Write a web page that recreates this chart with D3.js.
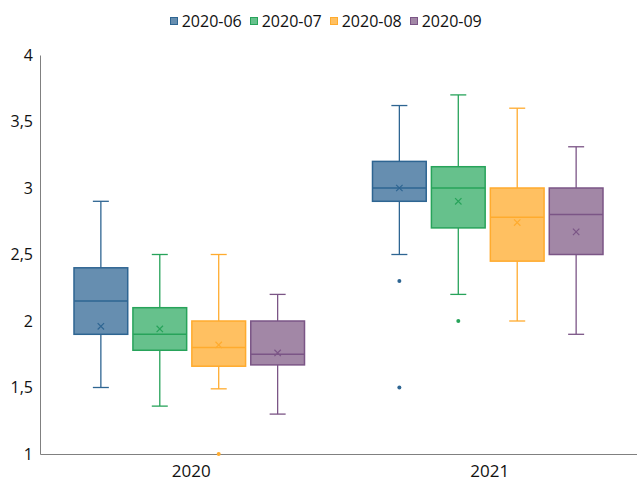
<!DOCTYPE html>
<html><head><meta charset="utf-8">
<script src="https://cdn.jsdelivr.net/npm/d3@7"></script>
<style>
html,body{margin:0;padding:0;background:#fff;}
text{font-family:"Open Sans","Noto Sans",sans-serif;fill:#111;}
</style></head>
<body>
<svg id="chart" width="637" height="483"></svg>
<script>
// ---- data ----
const categories = ["2020", "2021"];
const series = ["2020-06", "2020-07", "2020-08", "2020-09"];
const yTicks = [1, 1.5, 2, 2.5, 3, 3.5, 4];
// values indexed [series][category]
const lowWhisker  = [[1.50, 2.50], [1.36, 2.20], [1.49, 2.00], [1.30, 1.90]];
const q1          = [[1.90, 2.90], [1.78, 2.70], [1.66, 2.45], [1.67, 2.50]];
const median      = [[2.15, 3.00], [1.90, 3.00], [1.80, 2.78], [1.75, 2.80]];
const q3          = [[2.40, 3.20], [2.10, 3.16], [2.00, 3.00], [2.00, 3.00]];
const highWhisker = [[2.90, 3.62], [2.50, 3.70], [2.50, 3.60], [2.20, 3.31]];
const mean        = [[1.96, 3.00], [1.94, 2.90], [1.82, 2.74], [1.76, 2.67]];
const outliers    = [[[], [2.30, 1.50]], [[], [2.00]], [[1.00], []], [[], []]];

const fills   = ["#668eb0", "#66c18c", "#ffc061", "#a287a6"];
const strokes = ["#2e6592", "#27a35a", "#ffab2e", "#7b5586"];

// ---- layout ----
const svg = d3.select("#chart");
const plotLeft = 40, plotRight = 637, plotTop = 55, plotBottom = 454;

const y = d3.scaleLinear().domain([1, 4]).range([plotBottom, plotTop]);
const x0 = d3.scaleBand().domain(categories).range([plotLeft, plotRight]).padding(0);
const x1 = d3.scaleBand().domain(series)
  .range([31.4, x0.bandwidth() - 31.4]).paddingInner(0.088).paddingOuter(0.044);

// y axis
const yAxis = d3.axisLeft(y).tickValues(yTicks).tickSize(0).tickPadding(7)
  .tickFormat(d => String(d).replace(".", ","));
const gy = svg.append("g").attr("transform", `translate(${plotLeft},0)`).call(yAxis);
gy.select(".domain").attr("stroke", "#808080");
gy.selectAll("text").style("font-size", "16px").attr("fill", "#111")
  .style("font-family", "'Open Sans',sans-serif");

// x axis
const xAxis = d3.axisBottom(x0).tickSize(0).tickPadding(11);
const gx = svg.append("g").attr("transform", `translate(0,${plotBottom})`).call(xAxis);
gx.select(".domain").attr("stroke", "#808080");
gx.selectAll("text").style("font-size", "17px").attr("fill", "#111")
  .attr("dx", 2)
  .style("font-family", "'Open Sans',sans-serif");

// boxes
const capW = 16;
const groups = svg.append("g");
series.forEach((s, si) => {
  categories.forEach((c, ci) => {
    const g = groups.append("g");
    const left = x0(c) + x1(s);
    const w = x1.bandwidth();
    const cx = left + w / 2;
    const col = strokes[si];
    // whiskers
    g.append("line").attr("x1", cx).attr("x2", cx)
      .attr("y1", y(highWhisker[si][ci])).attr("y2", y(q3[si][ci]))
      .attr("stroke", col).attr("stroke-width", 1.3);
    g.append("line").attr("x1", cx).attr("x2", cx)
      .attr("y1", y(q1[si][ci])).attr("y2", y(lowWhisker[si][ci]))
      .attr("stroke", col).attr("stroke-width", 1.3);
    [highWhisker[si][ci], lowWhisker[si][ci]].forEach(v => {
      g.append("line").attr("x1", cx - capW / 2).attr("x2", cx + capW / 2)
        .attr("y1", y(v)).attr("y2", y(v))
        .attr("stroke", col).attr("stroke-width", 1.3);
    });
    // box
    g.append("rect").attr("x", left).attr("width", w)
      .attr("y", y(q3[si][ci])).attr("height", y(q1[si][ci]) - y(q3[si][ci]))
      .attr("fill", fills[si]).attr("stroke", col).attr("stroke-width", 1.5);
    // median
    g.append("line").attr("x1", left).attr("x2", left + w)
      .attr("y1", y(median[si][ci])).attr("y2", y(median[si][ci]))
      .attr("stroke", col).attr("stroke-width", 1.5);
    // mean marker
    const my = y(mean[si][ci]), r = 3.2;
    g.append("path")
      .attr("d", `M${cx - r},${my - r}L${cx + r},${my + r}M${cx - r},${my + r}L${cx + r},${my - r}`)
      .attr("stroke", col).attr("stroke-width", 1.2).attr("fill", "none");
    // outliers
    outliers[si][ci].forEach(v => {
      g.append("circle").attr("cx", cx).attr("cy", y(v)).attr("r", 2)
        .attr("fill", col);
    });
  });
});

// legend
const legend = svg.append("g");
let lx = 170;
series.forEach((s, si) => {
  legend.append("rect").attr("x", lx + 0.5).attr("y", 17.5).attr("width", 7).attr("height", 7)
    .attr("fill", fills[si]).attr("stroke", strokes[si]).attr("stroke-width", 1);
  legend.append("text").attr("x", lx + 11.7).attr("y", 27.3)
    .style("font-size", "16px").text(s);
  lx += 80;
});
</script>
</body></html>
